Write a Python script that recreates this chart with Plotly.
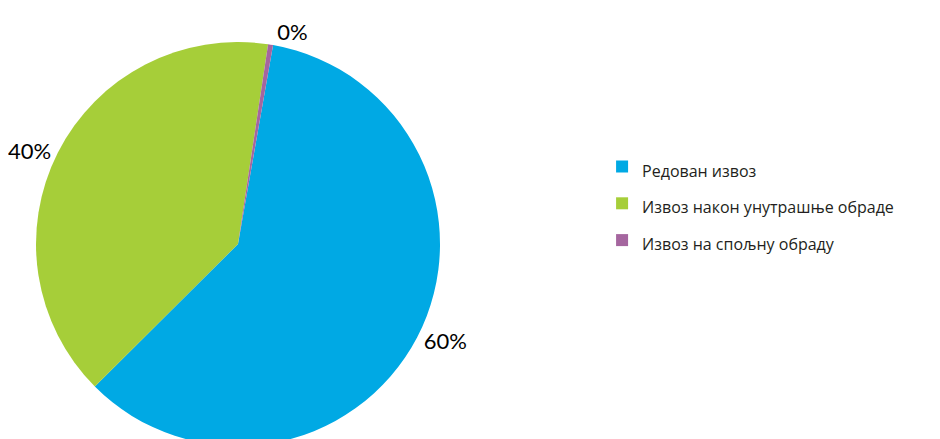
import plotly.graph_objects as go

labels = ["Редован извоз", "Извоз након унутрашње обраде", "Извоз на спољну обраду"]
values = [60.0, 40.0, 0.4]
colors = ["#00A9E4", "#A6CE39", "#A5669F"]

legend_labels = ['<span style="font-size:16px">' + s + '</span>' for s in labels]

fig = go.Figure(
    go.Pie(
        labels=legend_labels,
        values=values,
        marker=dict(colors=colors, line=dict(width=0)),
        sort=False,
        direction="clockwise",
        rotation=10,
        textposition="outside",
        texttemplate="%{percent:.0%}",
        textfont=dict(size=22, color="#000000", family="Lato"),
        hovertemplate="%{label}: %{value}<extra></extra>",
        domain=dict(x=[0, 460 / 940], y=[0, 1]),
        showlegend=True,
    )
)

fig.update_layout(
    width=940,
    height=439,
    margin=dict(l=0, r=0, t=34, b=1, autoexpand=False),
    paper_bgcolor="white",
    plot_bgcolor="white",
    font=dict(family="Open Sans", color="#231F20"),
    legend=dict(
        x=0.632,
        xanchor="left",
        y=0.60,
        yanchor="middle",
        font=dict(size=26, color="#231F20", family="Open Sans"),
        bgcolor="rgba(0,0,0,0)",
    ),
)

fig.write_html("out.html")
